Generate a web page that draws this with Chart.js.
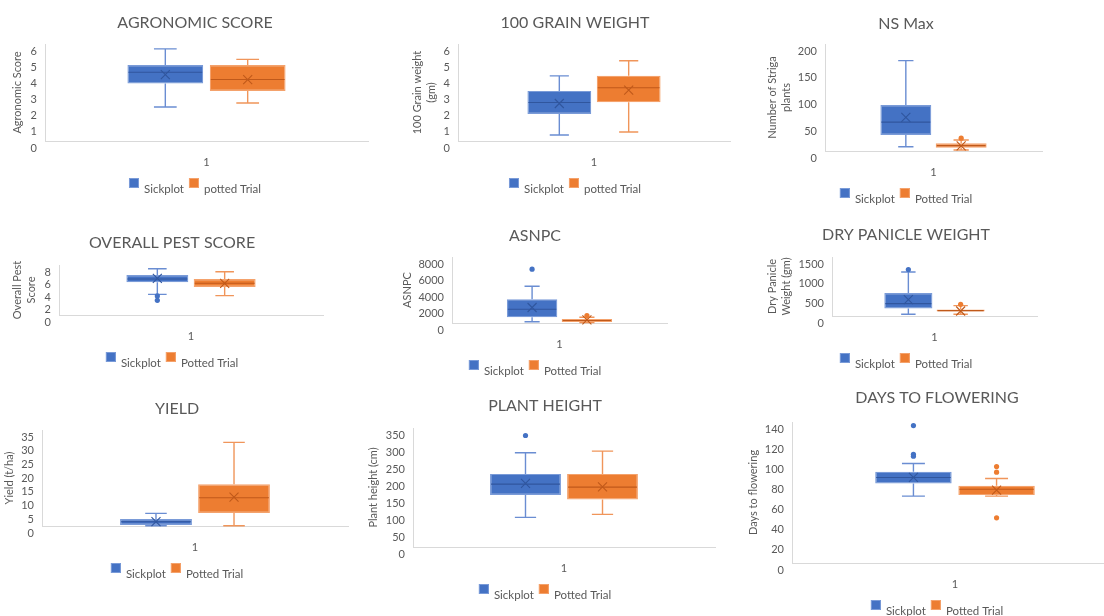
<!DOCTYPE html>
<html>
<head>
<meta charset="utf-8">
<title>Sickplot vs Potted Trial</title>
<script src="https://cdn.jsdelivr.net/npm/chart.js@4.4.1/dist/chart.umd.min.js"></script>
<style>
  html, body { margin: 0; padding: 0; background: #ffffff; }
  body { position: relative; width: 1104px; height: 616px; overflow: hidden; }
  canvas { position: absolute; }
</style>
</head>
<body>
<script>
// ---- data: five-number summaries [min, Q1, median, Q3, max], means and outliers ----
const categories = ['1'];

const agronomicSickplot = [2.1, 3.55, 4.25, 4.7, 5.7];
const agronomicPotted   = [2.35, 3.1, 3.8, 4.7, 5.05];
const agronomicMeans    = [4.1, 3.8];
const agronomicOutliers = [[], []];

const grainSickplot = [0.37, 1.67, 2.38, 3.1, 4.03];
const grainPotted   = [0.56, 2.4, 3.29, 4.03, 4.96];
const grainMeans    = [2.32, 3.15];
const grainOutliers = [[], []];

const nsMaxSickplot = [8, 30, 54, 86, 169];
const nsMaxPotted   = [2, 6, 10, 14.4, 20.6];
const nsMaxMeans    = [63, 9.4];
const nsMaxOutliers = [[], [24]];

const pestSickplot = [3.3, 5.23, 5.76, 6.4, 7.4];
const pestPotted   = [3.1, 4.48, 5.07, 5.76, 6.93];
const pestMeans    = [5.87, 5.07];
const pestOutliers = [[3.05, 2.35], []];

const asnpcSickplot = [160, 700, 1670, 2890, 4460];
const asnpcPotted   = [40, 120, 300, 490, 700];
const asnpcMeans    = [1880, 370];
const asnpcOutliers = [[6530], [890]];

const panicleSickplot = [43, 188, 315, 585, 1119];
const paniclePotted   = [43, 112, 137, 163, 264];
const panicleMeans    = [417, 127];
const panicleOutliers = [[1180], [297]];

const yieldSickplot = [0.1, 0.36, 1.57, 2.55, 4.62];
const yieldPotted   = [0.1, 4.74, 10.3, 15.2, 30.5];
const yieldMeans    = [1.57, 10.5];
const yieldOutliers = [[], []];

const heightSickplot = [87, 153, 185, 215, 277];
const heightPotted   = [96, 140, 176, 215, 282];
const heightMeans    = [187, 177];
const heightOutliers = [[328], []];

const floweringSickplot = [66.4, 79, 84.9, 90.5, 98.8];
const floweringPotted   = [66.4, 67.4, 73.3, 76.6, 83.9];
const floweringMeans    = [85, 72.3];
const floweringOutliers = [[136.5, 108, 106], [95.8, 90.2, 44.9]];

// value-axis ranges: [max, step]
const agronomicAxis = [6, 1];
const grainAxis     = [6, 1];
const nsMaxAxis     = [200, 50];
const pestAxis      = [8, 2];
const asnpcAxis     = [8000, 2000];
const panicleAxis   = [1500, 500];
const yieldAxis     = [35, 5];
const heightAxis    = [350, 50];
const floweringAxis = [140, 20];

// ---- styling ----
const FONT = 'Lato, "Open Sans", sans-serif';
const TEXT = '#595959';
const AXIS_LINE = '#d9d9d9';
const PAL = {
  blue:   { fill: '#4472C4', edge: '#7a9bd8', whisker: '#6a8dd2', median: '#30569e', mean: '#30569e', dot: '#4472C4' },
  orange: { fill: '#ED7D31', edge: '#f4a26c', whisker: '#f0955a', median: '#c0591a', mean: '#c0591a', dot: '#ED7D31' }
};

Chart.defaults.font.family = FONT;
Chart.defaults.color = TEXT;

// whiskers, median line, mean cross and outlier dots on top of the floating Q1-Q3 bars
const boxPlotPlugin = {
  id: 'boxPlot',
  afterDatasetsDraw(chart) {
    const ctx = chart.ctx;
    const ys = chart.scales.y;
    const py = v => ys.getPixelForValue(v);
    chart.data.datasets.forEach((ds, i) => {
      const bar = chart.getDatasetMeta(i).data[0];
      const x = bar.x, w = bar.width;
      const [mn, q1, md, q3, mx] = ds.stats;
      const p = ds.pal;
      ctx.save();
      ctx.lineWidth = 1.4;
      ctx.strokeStyle = p.whisker;
      const cap = w * 0.15;
      ctx.beginPath();
      ctx.moveTo(x, py(q3)); ctx.lineTo(x, py(mx));
      ctx.moveTo(x, py(q1)); ctx.lineTo(x, py(mn));
      ctx.moveTo(x - cap, py(mx)); ctx.lineTo(x + cap, py(mx));
      ctx.moveTo(x - cap, py(mn)); ctx.lineTo(x + cap, py(mn));
      ctx.stroke();

      ctx.strokeStyle = p.median;
      ctx.lineWidth = 1.1;
      ctx.beginPath();
      ctx.moveTo(x - w / 2 + 1, py(md)); ctx.lineTo(x + w / 2 - 1, py(md));
      ctx.stroke();

      const my = py(ds.mean), s = 4.5;
      ctx.strokeStyle = p.mean;
      ctx.lineWidth = 1.1;
      ctx.beginPath();
      ctx.moveTo(x - s, my - s); ctx.lineTo(x + s, my + s);
      ctx.moveTo(x - s, my + s); ctx.lineTo(x + s, my - s);
      ctx.stroke();

      ctx.fillStyle = p.dot;
      ds.outliers.forEach(v => {
        ctx.beginPath();
        ctx.arc(x, py(v), 2.6, 0, Math.PI * 2);
        ctx.fill();
      });
      ctx.restore();
    });
  }
};

// chart heading and the square-swatch legend under the category label
const panelDecor = {
  id: 'panelDecor',
  afterDraw(chart, args, o) {
    const ctx = chart.ctx;
    ctx.save();
    ctx.fillStyle = TEXT;
    ctx.textBaseline = 'middle';
    ctx.textAlign = 'center';
    ctx.font = '16px ' + FONT;
    ctx.fillText(o.title, chart.width / 2, o.titleY);

    ctx.font = '11.5px ' + FONT;
    const box = 10, gapText = 5, gapItem = 5;
    const items = chart.data.datasets.map(d => ({ text: d.label, pal: d.pal, w: ctx.measureText(d.label).width }));
    const total = items.reduce((a, it) => a + box + gapText + it.w, 0) + gapItem * (items.length - 1);
    let lx = chart.width / 2 - total / 2;
    const top = chart.chartArea.bottom + 37;
    ctx.textAlign = 'left';
    items.forEach(it => {
      ctx.fillStyle = it.pal.fill;
      ctx.fillRect(lx, top, box, box);
      ctx.strokeStyle = it.pal.edge;
      ctx.lineWidth = 1;
      ctx.strokeRect(lx + 0.5, top + 0.5, box - 1, box - 1);
      ctx.fillStyle = TEXT;
      ctx.fillText(it.text, lx + box + gapText, top + 11);
      lx += box + gapText + it.w + gapItem;
    });
    ctx.restore();
  }
};

function boxDataset(label, stats, mean, outliers, pal) {
  return {
    label,
    data: [[stats[1], stats[3]]],
    backgroundColor: pal.fill,
    borderColor: pal.edge,
    borderWidth: 1.2,
    borderSkipped: false,
    categoryPercentage: 0.51,
    barPercentage: 0.92,
    stats, mean, outliers, pal
  };
}

// frame of each panel on the page: canvas box, plot area edges, heading row, axis-title column
function makePanel(frame, title, yTitle, axis, names, sick, pot, means, outliers) {
  const cv = document.createElement('canvas');
  cv.width = frame.w; cv.height = frame.h;
  cv.style.left = frame.x + 'px'; cv.style.top = frame.y + 'px';
  cv.style.width = frame.w + 'px'; cv.style.height = frame.h + 'px';
  document.body.appendChild(cv);

  const yTitleFont = { size: 11, lineHeight: 1.3 };
  return new Chart(cv, {
    type: 'bar',
    data: {
      labels: categories,
      datasets: [
        boxDataset(names[0], sick, means[0], outliers[0], PAL.blue),
        boxDataset(names[1], pot, means[1], outliers[1], PAL.orange)
      ]
    },
    options: {
      responsive: false,
      animation: false,
      devicePixelRatio: 1,
      layout: { padding: { left: 0, top: frame.T - frame.y, right: frame.x + frame.w - frame.R, bottom: 0 } },
      plugins: {
        legend: { display: false },
        tooltip: { enabled: false },
        panelDecor: { title, titleY: frame.titleY - frame.y }
      },
      scales: {
        x: {
          grid: { display: false, drawTicks: false },
          border: { display: true, color: AXIS_LINE, width: 1 },
          ticks: { color: TEXT, font: { size: 11 }, padding: 15 },
          afterFit: s => { s.height = frame.y + frame.h - frame.B; }
        },
        y: {
          min: 0, max: axis[0],
          grid: { display: false, drawTicks: false },
          border: { display: true, color: AXIS_LINE, width: 1 },
          ticks: {
            stepSize: axis[1], color: TEXT, font: { size: 11 }, padding: 8, labelOffset: 7, autoSkip: false,
            callback: v => String(v)
          },
          title: {
            display: true, text: yTitle, color: TEXT, font: yTitleFont,
            padding: { top: frame.yTitleX - frame.x - 7, bottom: 0 }
          },
          afterFit: s => { s.width = frame.L - frame.x; }
        }
      }
    },
    plugins: [boxPlotPlugin, panelDecor]
  });
}

const frames = {
  agronomic: { x: 0,   y: 0,   w: 390, h: 215, L: 45,  T: 44,  R: 368,  B: 141, titleY: 23,  yTitleX: 17 },
  grain:     { x: 400, y: 0,   w: 350, h: 215, L: 458, T: 44,  R: 730,  B: 141, titleY: 23,  yTitleX: 417 },
  nsMax:     { x: 760, y: 0,   w: 292, h: 215, L: 825, T: 44,  R: 1042, B: 151, titleY: 24,  yTitleX: 772 },
  pest:      { x: 5,   y: 215, w: 334, h: 165, L: 59,  T: 265, R: 323,  B: 315, titleY: 243, yTitleX: 17 },
  asnpc:     { x: 395, y: 215, w: 280, h: 165, L: 452, T: 257, R: 667,  B: 323, titleY: 236, yTitleX: 407 },
  panicle:   { x: 760, y: 215, w: 292, h: 165, L: 832, T: 257, R: 1037, B: 316, titleY: 235, yTitleX: 772 },
  yield:     { x: 0,   y: 385, w: 354, h: 231, L: 42,  T: 430, R: 348,  B: 526, titleY: 409, yTitleX: 9 },
  height:    { x: 362, y: 385, w: 366, h: 231, L: 413, T: 428, R: 715,  B: 547, titleY: 406, yTitleX: 373 },
  flowering: { x: 743, y: 385, w: 388, h: 231, L: 792, T: 422, R: 1118, B: 563, titleY: 398, yTitleX: 753 }
};

const namesLower = ['Sickplot', 'potted Trial'];
const namesUpper = ['Sickplot', 'Potted Trial'];

makePanel(frames.agronomic, 'AGRONOMIC SCORE', 'Agronomic Score', agronomicAxis, namesLower,
  agronomicSickplot, agronomicPotted, agronomicMeans, agronomicOutliers);
makePanel(frames.grain, '100 GRAIN WEIGHT', ['100 Grain weight', '(gm)'], grainAxis, namesLower,
  grainSickplot, grainPotted, grainMeans, grainOutliers);
makePanel(frames.nsMax, 'NS Max', ['Number of Striga', 'plants'], nsMaxAxis, namesUpper,
  nsMaxSickplot, nsMaxPotted, nsMaxMeans, nsMaxOutliers);
makePanel(frames.pest, 'OVERALL PEST SCORE', ['Overall Pest', 'Score'], pestAxis, namesUpper,
  pestSickplot, pestPotted, pestMeans, pestOutliers);
makePanel(frames.asnpc, 'ASNPC', 'ASNPC', asnpcAxis, namesUpper,
  asnpcSickplot, asnpcPotted, asnpcMeans, asnpcOutliers);
makePanel(frames.panicle, 'DRY PANICLE WEIGHT', ['Dry Panicle', 'Weight (gm)'], panicleAxis, namesUpper,
  panicleSickplot, paniclePotted, panicleMeans, panicleOutliers);
makePanel(frames.yield, 'YIELD', 'Yield (t/ha)', yieldAxis, namesUpper,
  yieldSickplot, yieldPotted, yieldMeans, yieldOutliers);
makePanel(frames.height, 'PLANT HEIGHT', 'Plant height (cm)', heightAxis, namesUpper,
  heightSickplot, heightPotted, heightMeans, heightOutliers);
makePanel(frames.flowering, 'DAYS TO FLOWERING', 'Days to flowering', floweringAxis, namesUpper,
  floweringSickplot, floweringPotted, floweringMeans, floweringOutliers);
</script>
</body>
</html>
